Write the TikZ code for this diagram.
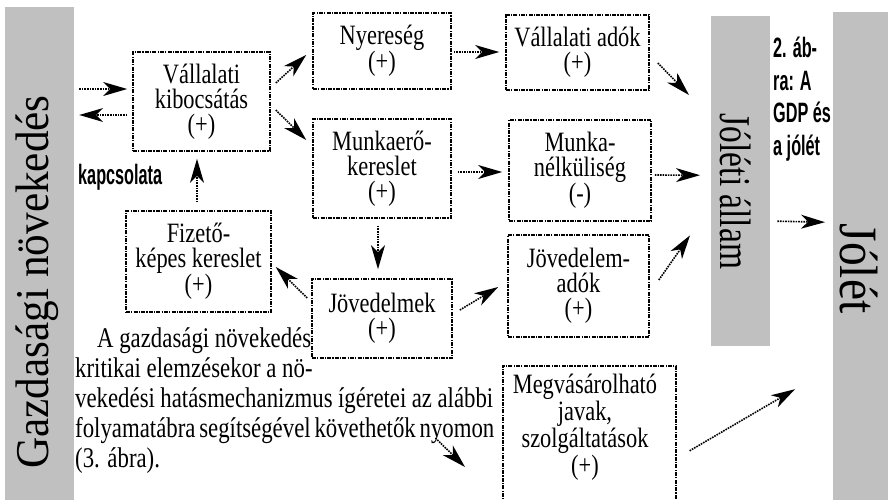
\documentclass[tikz,border=0pt]{standalone}
\usepackage{fontspec}
\setmainfont{Liberation Serif}
\newfontfamily\cserif[FakeStretch=0.8]{Liberation Serif}
\newfontfamily\csans[FakeStretch=0.58]{Liberation Sans}
\usetikzlibrary{arrows.meta,calc}
\definecolor{barg}{RGB}{192,192,192}
\begin{document}
\begin{tikzpicture}[x=1pt,y=-1pt,
  bar/.style={fill=barg, draw=none, inner sep=0, anchor=north west},
  box/.style={draw, line width=1.6pt, dash pattern=on 4pt off 1.2pt on 1.2pt off 1.2pt,
    inner sep=0, align=center, font=\cserif\fontsize{28}{25}\selectfont},
  ptext/.style={inner sep=0, anchor=base west, font=\cserif\fontsize{28.5}{30}\selectfont},
  shaft/.style={line width=1.6pt, dash pattern=on 1.6pt off 1pt, shorten >=14pt},
  head/.style={fill=black, draw=none}]
\useasboundingbox (0,0) rectangle (888,499);
% arrow macro: dotted shaft and filled head drawn as a kite
\newcommand\myarrow[2]{%
  \draw[shaft] #1 -- #2;
  \fill[head] #2 -- ($#2!24pt!#1!7pt!90:#1$) -- ($#2!17pt!#1$) -- ($#2!24pt!#1!7pt!-90:#1$) -- cycle;
}
% gray bars
\node[bar, minimum width=69pt, minimum height=500pt] (gz) at (5,7) {};
\node[bar, minimum width=59pt, minimum height=330pt] (jall) at (711,16) {};
\node[bar, minimum width=60pt, minimum height=495pt] (jol) at (833,12) {};
\node[rotate=90, anchor=base, inner sep=0] (gzt) at (48,282) {\scalebox{0.92}[1]{\fontsize{47}{47}\selectfont Gazdasági növekedés}};
\node[rotate=-90, anchor=base, inner sep=0] (jallt) at (720,191.5) {\scalebox{0.76}[1]{\fontsize{44}{44}\selectfont Jóléti állam}};
\node[rotate=-90, anchor=base, inner sep=0] (jolt) at (840,268.5) {\scalebox{0.88}[1]{\fontsize{54}{54}\selectfont Jólét}};
% boxes
\node[box, minimum width=137pt, minimum height=99pt] (v1) at (201.5,101.5) {Vállalati\\kibocsátás\\(+)};
\node[box, minimum width=138pt, minimum height=76pt] (ny) at (382,51) {Nyereség\\(+)};
\node[box, minimum width=143pt, minimum height=75pt] (va) at (577.5,52.5) {Vállalati adók\\(+)};
\node[box, minimum width=138pt, minimum height=99pt] (mk) at (382,168.5) {Munkaerő-\\kereslet\\(+)};
\node[box, minimum width=142pt, minimum height=101pt] (mn) at (580,170.5) {Munka-\\nélküliség\\(-)};
\node[box, minimum width=141pt, minimum height=102pt] (ja) at (578.5,286) {Jövedelem-\\adók\\(+)};
\node[box, minimum width=140pt, minimum height=79pt] (jm) at (382,318.5) {Jövedelmek\\(+)};
\node[box, minimum width=145pt, minimum height=101pt] (fk) at (198.5,261.5) {Fizető-\\képes kereslet\\(+)};
\node[box, minimum width=173pt, minimum height=150pt, anchor=north west] (mv) at (502,365) {};
\node[inner sep=0, anchor=north, align=center, font=\cserif\fontsize{28}{27}\selectfont] (mvt) at (585,374) {Megvásárolható\\javak,\\szolgáltatások\\(+)};
% side texts
\node[anchor=base west, inner sep=0, font=\csans\bfseries\fontsize{28}{28}\selectfont] (kap) at (78,184) {kapcsolata};
\node[anchor=north west, inner sep=0, align=left, font=\csans\bfseries\fontsize{28}{32.5}\selectfont] (abra) at (773,37) {2. áb-\\ra: A\\GDP és\\a jólét};
% paragraph
\node[ptext] (p1) at (97,347) {A gazdasági növekedés};
\node[ptext] (p2) at (75,377) {kritikai elemzésekor a nö-};
\node[ptext] (p3) at (75,407) {\makebox[418pt][s]{vekedési hatásmechanizmus ígéretei az alábbi}};
\node[ptext] (p4) at (75,437) {\makebox[418pt][s]{folyamatábra segítségével követhetők nyomon}};
\node[ptext] (p5) at (75,467) {(3. ábra).};
% arrow end points, placed from the nodes
\coordinate (a1) at ($(v1.west)+(-53,-12.5)$); \coordinate (b1) at ($(v1.west)+(-5,-12.5)$);
\coordinate (a2) at ($(v1.west)+(-5,13.5)$);   \coordinate (b2) at ($(v1.west)+(-53,13.5)$);
\coordinate (a3) at ($(v1.east)+(5,-18.5)$);   \coordinate (b3) at ($(ny.west)+(-6,4)$);
\coordinate (a4) at ($(v1.east)+(5,8.5)$);     \coordinate (b4) at ($(mk.west)+(-6,-28.5)$);
\coordinate (a5) at ($(fk.north)+(-1.5,-8)$);  \coordinate (b5) at ($(v1.south)+(-4.5,7)$);
\coordinate (a6) at ($(ny.east)+(2,1)$);       \coordinate (b6) at ($(va.west)+(-6,-0.5)$);
\coordinate (a7) at ($(mk.east)+(6,3.5)$);     \coordinate (b7) at ($(mn.west)+(-6,1.5)$);
\coordinate (a8) at ($(mk.south)+(-4,7)$);     \coordinate (b8) at ($(jm.north)+(-4,-9)$);
\coordinate (a9) at ($(jm.west)+(-4,-20.5)$);  \coordinate (b9) at ($(fk.east)+(4,5.5)$);
\coordinate (a10) at ($(jm.east)+(7,-8.5)$);   \coordinate (b10) at ($(ja.west)+(-9,1)$);
\coordinate (a11) at ($(va.east)+(8,10.5)$);   \coordinate (b11) at ($(jall.north west)+(-22,79)$);
\coordinate (a12) at ($(mn.east)+(3,4.5)$);    \coordinate (b12) at ($(jall.west)+(-11,-6)$);
\coordinate (a13) at ($(ja.east)+(9,-6)$);     \coordinate (b13) at ($(jall.south west)+(-21,-111)$);
\coordinate (a14) at ($(jall.east)+(7,40)$);   \coordinate (b14) at ($(jol.west)+(-8,-37.5)$);
\coordinate (a15) at ($(mv.east)+(13,10)$);    \coordinate (b15) at ($(jol.west)+(-38,129.5)$);
\coordinate (a16) at ($(p4.base east)+(-58,1)$); \coordinate (b16) at ($(mv.north west)+(-37,102)$);
\foreach \i in {1,...,16}{\myarrow{(a\i)}{(b\i)}}
\end{tikzpicture}
\end{document}
